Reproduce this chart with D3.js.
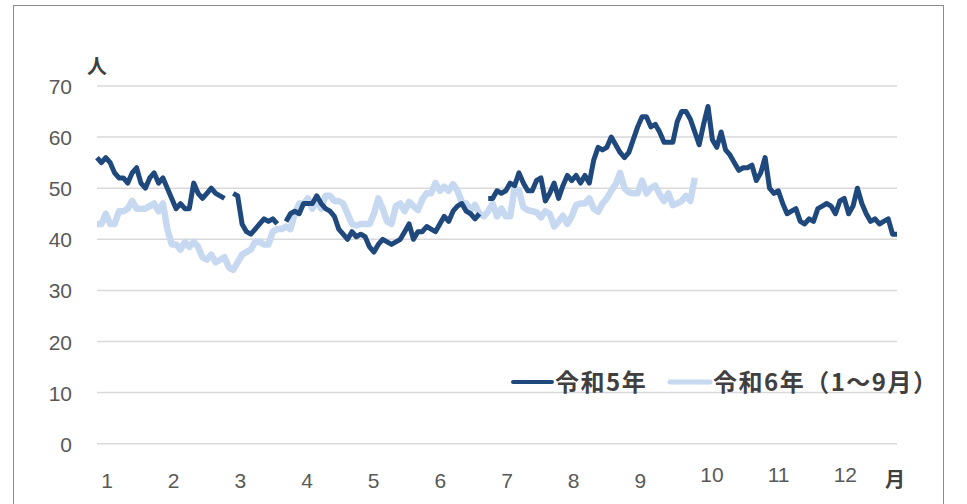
<!DOCTYPE html>
<html>
<head>
<meta charset="utf-8">
<script src="https://cdn.jsdelivr.net/npm/d3@7"></script>
<style>
  body { margin: 0; background: #fff; }
  text { font-family: "Liberation Sans", Arial, sans-serif; }
  .jp { font-family: "Noto Sans CJK JP", sans-serif; }
</style>
</head>
<body>
<div id="chart"></div>
<script>
  // values read every 2 days (day 0 = Jan 1), null = no data
  const stepDays = 2;
  const r5Values = [
    56, 55, 56, 55, 53, 52, 52, 51, 53, 54, 51, 50, 52, 53, 51, 52, 50, 48, 46, 47,
    46, 46, 51, 49, 48, 49, 50, 49, 48.5, 48, null, 49, 48.5, 43, 41.5, 41, 42, 43, 44, 43.5,
    44, 43, null, 43.5, 45, 45.5, 45, 47, 47, 47, 48.5, 47, 46, 45.5, 44.5, 42, 41, 40, 41.5, 40.5,
    41, 40.5, 38.5, 37.5, 39, 40, 39.5, 39, 39.5, 40, 41.5, 43, 40, 41.5, 41.5, 42.5, 42, 41.5, 43, 44.5,
    43.5, 45.5, 46.5, 47, 45.5, 45, 44, 45, null, 48, 48, 49.5, 49, 49.5, 51, 50.5, 53, 51, 49.5, 49.5,
    51.5, 52, 47.5, 49, 51, 48, 50.5, 52.5, 51.5, 52.5, 51, 52.5, 51, 55.5, 58, 57.5, 58, 60, 58.5, 57,
    56, 57, 59.5, 62, 64, 64, 62, 62.5, 61, 59, 59, 59, 63, 65, 65, 63.5, 61, 58.5, 62.5, 66,
    59.5, 58, 61, 57.5, 56.5, 55, 53.5, 54, 54, 54.5, 51.5, 53, 56, 50, 49, 49.5, 47, 45, 45.5, 46,
    43.5, 43, 44, 43.5, 46, 46.5, 47, 46.5, 45, 47.5, 48, 45, 46.5, 50, 47, 45, 43.5, 44, 43, 43.5,
    44, 41, 41
  ];
  const r6Values = [
    43, 43, 45, 43, 43, 45.5, 45.5, 46, 47.5, 46, 46, 46, 46.5, 47, 45.5, 47, 42, 39, 39, 38,
    39.5, 38.5, 39.5, 38.5, 36.5, 36, 37, 35.5, 36, 36.5, 34.5, 34, 35.5, 37, 37.5, 38, 39.5, 39.5, 39, 39,
    41.5, 42, 42, 42.5, 42, 45, 47, 47, 48, 46, 47.5, 46, 48.5, 48.5, 47.5, 47.5, 47, 45, 43, 42.7,
    43, 43, 43, 45, 48, 46, 43.5, 43, 46.5, 47, 45.5, 47.3, 46.5, 45.7, 47.8, 49, 49, 51, 49.5, 50.3,
    49.5, 50.8, 49.5, 47.3, 47, 45.8, 46.7, 45, 44.5, 45.5, 47, 44.5, 46, 44.5, 44.5, 50, 49.5, 46.3, 45.7, 45.5,
    45.3, 44.3, 45.5, 45, 42.5, 43.5, 44.6, 43, 44.5, 46.7, 47, 47, 48, 46, 45.4, 47, 48, 49.5, 50.8, 53,
    50, 49.2, 49, 49, 51.5, 49, 50, 50.5, 48.8, 47.5, 49, 46.7, 47, 47.5, 48.5, 47.5, 52
  ];
  const monthLabels = ["1", "2", "3", "4", "5", "6", "7", "8", "9", "10", "11", "12"];
  const yTicks = [0, 10, 20, 30, 40, 50, 60, 70];
  const seriesNames = ["令和5年", "令和6年（1～9月）"];
  const colors = ["#1f497d", "#c6d9f1"];

  const width = 967, height = 504;

  const svg = d3.select("#chart").append("svg")
    .attr("width", width)
    .attr("height", height);

  // outer frame (bottom edge is below the picture)
  svg.append("rect")
    .attr("x", 13.5).attr("y", 5.5)
    .attr("width", 930).attr("height", 520)
    .attr("fill", "#fff")
    .attr("stroke", "#8c8c8c")
    .attr("stroke-width", 1);

  const x = d3.scaleLinear().domain([0, 364]).range([97, 897]);
  const y = d3.scaleLinear().domain([0, 70]).range([443.7, 86]);
  const xMonth = d3.scaleBand().domain(monthLabels).range([97, 897]);

  svg.append("g")
    .selectAll("line")
    .data(yTicks)
    .enter().append("line")
    .attr("x1", x(0)).attr("x2", x(364))
    .attr("y1", d => y(d)).attr("y2", d => y(d))
    .attr("stroke", "#d9d9d9")
    .attr("stroke-width", 1.5);

  svg.append("g")
    .selectAll("text")
    .data(yTicks)
    .enter().append("text")
    .attr("x", 72)
    .attr("y", d => y(d) + 8)
    .attr("text-anchor", "end")
    .attr("fill", "#595959")
    .style("font-size", "21px")
    .text(d => d);

  svg.append("text")
    .attr("class", "jp")
    .attr("x", 97).attr("y", 74)
    .attr("text-anchor", "middle")
    .attr("fill", "#404040")
    .style("font-size", "20px")
    .style("font-weight", "bold")
    .text("人");

  svg.append("g")
    .selectAll("text")
    .data(monthLabels)
    .enter().append("text")
    .attr("x", d => xMonth(d) + (d.length > 1 ? 15 : 10))
    .attr("y", d => d.length > 1 ? 482 : 488)
    .attr("text-anchor", "middle")
    .attr("fill", "#595959")
    .style("font-size", "21px")
    .text(d => d);

  svg.append("text")
    .attr("class", "jp")
    .attr("x", 895).attr("y", 487)
    .attr("text-anchor", "middle")
    .attr("fill", "#404040")
    .style("font-size", "20px")
    .style("font-weight", "bold")
    .text("月");

  const line = d3.line()
    .defined(d => d !== null)
    .x((d, i) => x(i * stepDays))
    .y(d => y(d));

  svg.append("path")
    .datum(r6Values)
    .attr("fill", "none")
    .attr("stroke", colors[1])
    .attr("stroke-width", 6.5)
    .attr("stroke-linejoin", "round")
    .attr("d", line);

  svg.append("path")
    .datum(r5Values)
    .attr("fill", "none")
    .attr("stroke", colors[0])
    .attr("stroke-width", 5)
    .attr("stroke-linejoin", "round")
    .attr("d", line);

  // legend
  const legend = [
    {name: seriesNames[0], color: colors[0], x1: 513, x2: 552, tx: 555, w: 4},
    {name: seriesNames[1], color: colors[1], x1: 670, x2: 710, tx: 713, w: 5}
  ];
  const lg = svg.append("g").selectAll("g").data(legend).enter().append("g");
  lg.append("line")
    .attr("x1", d => d.x1).attr("x2", d => d.x2)
    .attr("y1", 382).attr("y2", 382)
    .attr("stroke", d => d.color)
    .attr("stroke-width", d => d.w)
    .attr("stroke-linecap", "round");
  lg.append("text")
    .attr("class", "jp")
    .attr("x", d => d.tx).attr("y", 391)
    .attr("fill", "#404040")
    .style("font-size", "24px")
    .style("font-weight", "bold")
    .style("letter-spacing", "1.5px")
    .text(d => d.name);
</script>
</body>
</html>
